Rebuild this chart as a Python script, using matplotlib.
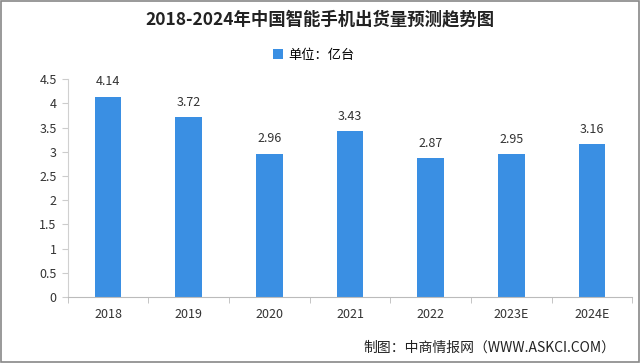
import matplotlib
matplotlib.use('Agg')
import numpy as np
from matplotlib import pyplot as plt

plt.rcParams['font.family'] = ['Noto Sans CJK SC', 'DejaVu Sans']

years = ['2018', '2019', '2020', '2021', '2022', '2023E', '2024E']
shipments = [4.14, 3.72, 2.96, 3.43, 2.87, 2.95, 3.16]
yticks = [0, 0.5, 1, 1.5, 2, 2.5, 3, 3.5, 4, 4.5]

bar_color = '#3a8fe3'

fig = plt.figure(figsize=(6.4, 3.63), dpi=100)
ax = fig.add_axes([0.106, 0.182, 0.882, 0.6])

x = np.arange(len(years))
ax.bar(x, shipments, width=0.33, color=bar_color, label='单位：亿台', zorder=2)

# 柱顶数值标签
for xi, v in zip(x, shipments):
    ax.annotate(f'{v:.2f}', (xi, v), xytext=(0, 6), textcoords='offset points',
                ha='center', va='bottom', fontsize=9, color='#333333')

ax.set_xlim(-0.5, len(years) - 0.5)
ax.set_ylim(0, 4.5)
ax.set_yticks(yticks)
ax.set_yticklabels([f'{t:g}' for t in yticks], fontsize=9, color='#333333')
ax.set_xticks(x)
ax.set_xticklabels(years, fontsize=9, color='#333333')
ax.tick_params(axis='x', length=0, pad=8)
ax.set_xticks(np.arange(len(years) + 1) - 0.5, minor=True)
ax.tick_params(axis='x', which='minor', length=4, color='#bbbbbb')
ax.tick_params(axis='y', length=4, color='#cccccc', pad=4)

for side in ['top', 'right']:
    ax.spines[side].set_visible(False)
ax.spines['left'].set_color('#d0d0d0')
ax.spines['bottom'].set_color('#bbbbbb')

fig.text(0.5, 0.945, '2018-2024年中国智能手机出货量预测趋势图', ha='center', va='center',
         fontsize=12.5, fontweight='bold', color='#222222')
ax.legend(loc='center', bbox_to_anchor=(0.49, 0.848), bbox_transform=fig.transFigure,
          frameon=False, fontsize=9.5, handlelength=0.8, handleheight=0.8, handletextpad=0.4)
fig.text(0.962, 0.043, '制图：中商情报网（WWW.ASKCI.COM）', ha='right', va='center',
         fontsize=10, color='#222222')

# 外边框
fig.patches.append(plt.Rectangle((0.002, 0.003), 0.996, 0.994, transform=fig.transFigure,
                                 fill=False, edgecolor='#888888', linewidth=1.2))

fig.savefig('out.png', dpi=100)
